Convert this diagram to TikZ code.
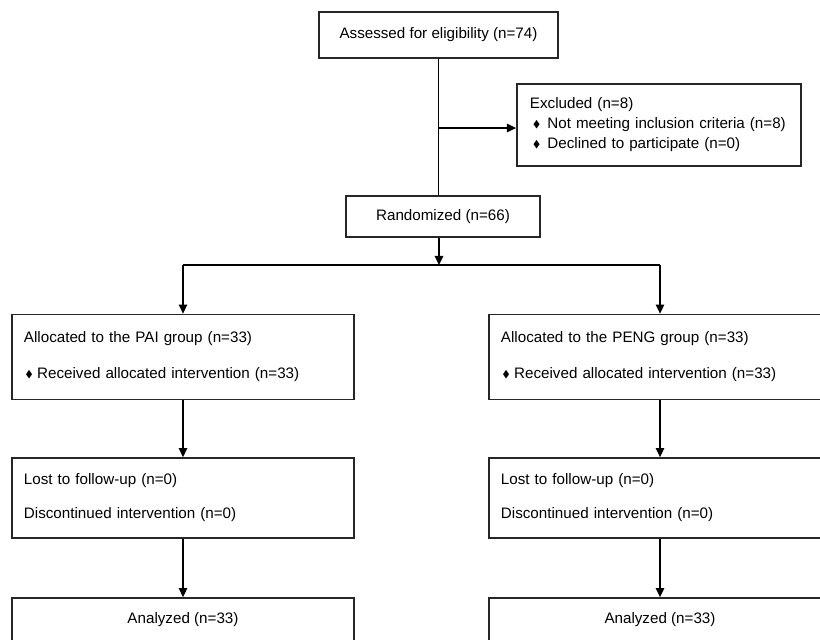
\documentclass[tikz,border=0pt]{standalone}
\usepackage{amssymb}
\usepackage{fontspec}
\setmainfont{Liberation Sans}
\usepackage{tikz}
\usetikzlibrary{arrows.meta,positioning,calc}
\newcommand{\dia}{\raisebox{1.2pt}{\scriptsize$\blacklozenge$}}

\begin{document}
\begin{tikzpicture}[
    x=0.025cm, y=-0.025cm,
    box/.style={rectangle, draw=black!85, line width=1.2pt, fill=white, font=\fontsize{10.8}{13}\selectfont, inner xsep=0.3cm, inner ysep=0pt},
    cbox/.style={box, align=center},
    lbox/.style={box, align=left, text width=7.95cm},
    arrow/.style={-{Triangle[length=6.5pt,width=6pt]}, line width=1.2pt},
    link/.style={line width=1.2pt}
]
    \useasboundingbox (0,0) rectangle (820,639);
    \clip (0,0) rectangle (820,639);

    % Enrollment
    \node[cbox, minimum width=5.975cm, minimum height=1.15cm] (assess) at (438.5,35) {Assessed for eligibility (n=74)};
    \node[box, align=left, text width=6.45cm, minimum height=2.05cm, inner xsep=0.325cm, font=\fontsize{10.8}{14.2}\selectfont] (excl) at (659,125) {Excluded (n=8)\\
        \hspace*{2pt}\dia\hspace{5pt}Not meeting inclusion criteria (n=8)\\
        \hspace*{2pt}\dia\hspace{5pt}Declined to participate (n=0)};
    \node[cbox, minimum width=4.85cm, minimum height=1.025cm] (rand) at (443,216.5) {Randomized (n=66)};

    % Allocation
    \node[lbox, minimum height=2.125cm] (pai) at (183,357) {Allocated to the PAI group (n=33)\\[12.6pt]
        \hspace*{1pt}\dia\hspace{3pt}Received allocated intervention (n=33)};
    \node[lbox, minimum height=2.125cm] (peng) at (660,357) {Allocated to the PENG group (n=33)\\[12.6pt]
        \hspace*{1pt}\dia\hspace{3pt}Received allocated intervention (n=33)};

    % Follow-up
    \node[lbox, minimum height=2cm] (lostL) at (183,498) {Lost to follow-up (n=0)\\[11.2pt]Discontinued intervention (n=0)};
    \node[lbox, minimum height=2cm] (lostR) at (660,498) {Lost to follow-up (n=0)\\[11.2pt]Discontinued intervention (n=0)};

    % Analysis
    \node[cbox, minimum width=8.55cm, minimum height=1.1cm] (anL) at (183,620) {Analyzed (n=33)};
    \node[cbox, minimum width=8.55cm, minimum height=1.1cm] (anR) at (660,620) {Analyzed (n=33)};

    % Connectors
    \coordinate (split) at (439,265);
    \draw[link] (assess.south) -- (assess.south |- rand.north);
    \draw[arrow] ($(assess.south |- excl.west)+(0,3)$) -- ($(excl.west)+(0,3)$);
    \draw[arrow] (split |- rand.south) -- (split);
    \draw[link] (pai.north |- split) -- (peng.north |- split);
    \draw[arrow] (pai.north |- split) -- (pai.north);
    \draw[arrow] (peng.north |- split) -- (peng.north);
    \draw[arrow] (pai.south) -- (lostL.north);
    \draw[arrow] (peng.south) -- (lostR.north);
    \draw[arrow] (lostL.south) -- (anL.north);
    \draw[arrow] (lostR.south) -- (anR.north);
\end{tikzpicture}
\end{document}
